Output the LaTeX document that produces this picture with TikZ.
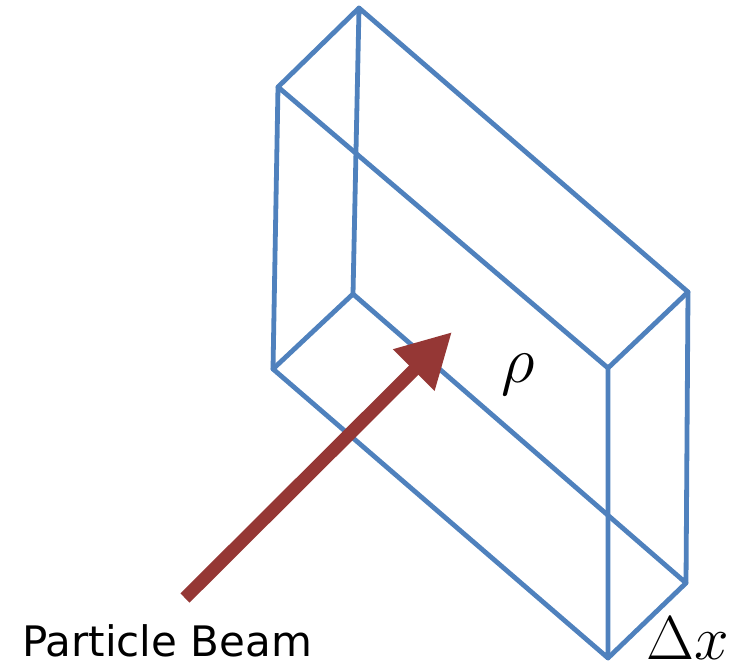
\RequirePackage{fix-cm}
\documentclass[tikz,border=0pt]{standalone}
\usepackage{fontspec}
\newfontfamily\beamfont{DejaVu Sans}
\usetikzlibrary{arrows.meta}
\definecolor{slabblue}{RGB}{79,129,189}
\definecolor{beamred}{RGB}{149,55,53}

\begin{document}
\begin{tikzpicture}[x=1pt, y=-1pt,
    edge/.style = {draw=slabblue, line width=4.8pt, line join=round, line cap=round},
    beam/.style = {draw=beamred, line width=13pt, -{Triangle[width=55pt,length=54pt]}},
    label/.style = {inner sep=0pt, anchor=base west}]
    \useasboundingbox (0,0) rectangle (741,666);

    % corners of the slab
    \coordinate (backTL) at (359,8);
    \coordinate (backTR) at (688,292);
    \coordinate (backBL) at (353,294);
    \coordinate (backBR) at (686,583);
    \coordinate (frontTL) at (278,87);
    \coordinate (frontTR) at (608,368);
    \coordinate (frontBL) at (273,369);
    \coordinate (frontBR) at (608,658);

    \draw[edge] (backTL) -- (backTR) -- (backBR) -- (backBL) -- cycle;
    \draw[edge] (frontTL) -- (frontTR) -- (frontBR) -- (frontBL) -- cycle;
    \draw[edge] (backTL) -- (frontTL);
    \draw[edge] (backTR) -- (frontTR);
    \draw[edge] (backBL) -- (frontBL);
    \draw[edge] (backBR) -- (frontBR);

    % beam
    \coordinate (tail) at (185,598);
    \coordinate (tip) at (452,332);
    \draw[beam] (tail) -- (tip);

    \node[label, font=\beamfont\fontsize{42}{50}\selectfont] (beamtext) at (22,656) {Particle Beam};
    \node[label, font=\fontsize{66}{70}\selectfont] (rho) at (501,382) {$\rho$};
    \node[label, font=\fontsize{62}{70}\selectfont] (dx) at (646,659) {$\Delta x$};
\end{tikzpicture}
\end{document}
